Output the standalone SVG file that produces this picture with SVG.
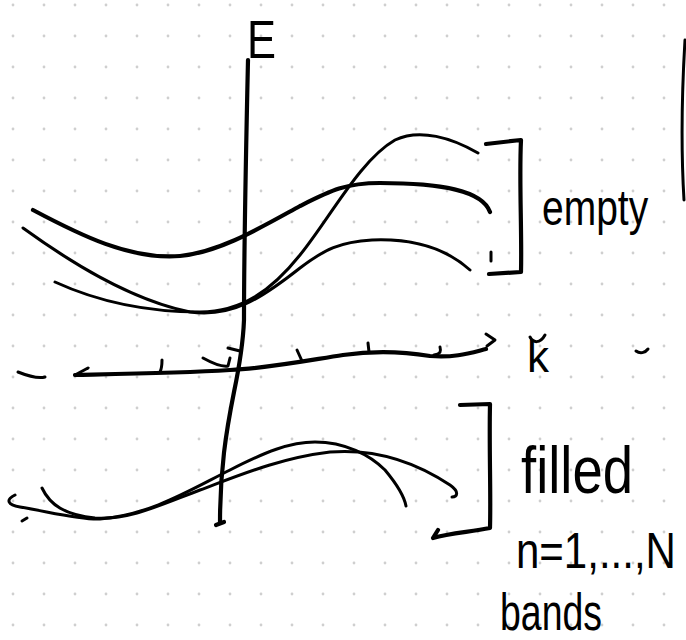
<svg xmlns="http://www.w3.org/2000/svg" width="686" height="640" viewBox="0 0 686 640">
<style>
.s{fill:none;stroke:#000;stroke-linecap:round;stroke-linejoin:round}
.t4{stroke-width:4.2}
.t3{stroke-width:3}
.lbl{font-family:"Liberation Sans","DejaVu Sans",sans-serif;fill:#000}
</style>
<defs>
<pattern id="dots" width="31" height="31" patternUnits="userSpaceOnUse">
<circle cx="13" cy="5" r="1.4" fill="#cfcfcf"/>
</pattern>
</defs>
<rect width="686" height="640" fill="#fff"/>
<rect width="686" height="640" fill="url(#dots)"/>

<g id="axes">
<path class="s t4" d="M248,60 C246,150 244,250 244,320 C243,345 239,368 234,392 C226,432 220,470 220,523"/>
<path class="s t4" d="M216,525 L224,522"/>
<path class="s t4" d="M75,375 C120,374 180,373 230,370 C270,368 310,360 343,355 C370,351 400,351 430,356 C455,358 470,353 486,349"/>
<path class="s t3" d="M75,375 L88,368"/>
<path class="s t3" d="M18,372 C28,376 38,379 45,377"/>
<path class="s t3" d="M160,372 C162,368 162,363 162,360"/>
<path class="s t3" d="M203,358 C212,363 222,367 228,366 L230,358"/>
<path class="s t3" d="M228,348 L240,351"/>
<path class="s t3" d="M297,350 L302,361"/>
<path class="s t3" d="M368,343 L369,352"/>
<path class="s t3" d="M440,347 C441,351 441,354 434,355"/>
<path class="s t3" d="M486,334 L495,340 L487,346"/>
<path class="s t3" d="M636,351 C640,354 645,353 648,349"/>
<path class="s t3" d="M685,40 C682,90 681,150 684,200"/>
</g>

<g id="empty-bands">
<path class="s t4" d="M33,210 C80,235 130,260 180,256 C220,252 260,228 300,206 C330,191 345,183 380,183 C440,183 482,190 490,212"/>
<path class="s t3" d="M23,228 C70,262 130,300 190,312 C232,318 262,298 300,268 C325,249 340,242 372,240 C420,238 450,252 470,270"/>
<path class="s t3" d="M55,282 C90,298 140,312 200,312 C242,312 272,290 300,255 C330,218 360,160 395,140 C420,128 452,138 478,153"/>
<path class="s t4" d="M486,144 L521,140 C519,180 522,230 521,272 L489,274"/>
<path class="s t3" d="M491,252 L491,261"/>
</g>

<g id="filled-bands">
<path class="s t3" d="M15,495 C5,500 8,505 20,507 C50,512 80,520 100,519 C150,515 190,490 230,470 C265,452 290,442 315,442 C345,442 370,455 385,470 C395,482 404,495 406,506"/>
<path class="s t3" d="M42,488 C50,505 65,515 95,518 C130,520 160,505 200,490 C240,475 280,458 330,452 C380,448 420,465 450,485 C460,492 457,497 452,497"/>
<path class="s t3" d="M22,521 L27,518"/>
<path class="s t4" d="M460,405 L490,404 C489,450 491,490 490,528 C470,532 450,533 433,538 L438,530"/>
</g>

<g id="labels">
<text class="lbl" x="247" y="58" font-size="54" textLength="29" lengthAdjust="spacingAndGlyphs">E</text>
<text class="lbl" transform="translate(542,225) scale(1,1.3)" font-size="39">empty</text>
<text class="lbl" x="527" y="372" font-size="44">k</text>
<path class="s t3" d="M530,337 C533,343 540,344 545,335"/>
<text class="lbl" x="521" y="493" font-size="66" textLength="112" lengthAdjust="spacingAndGlyphs">filled</text>
<text class="lbl" transform="translate(516,568) scale(1,1.2)" font-size="42">n=1,...,N</text>
<text class="lbl" x="500" y="630" font-size="52" textLength="102" lengthAdjust="spacingAndGlyphs">bands</text>
</g>
</svg>
